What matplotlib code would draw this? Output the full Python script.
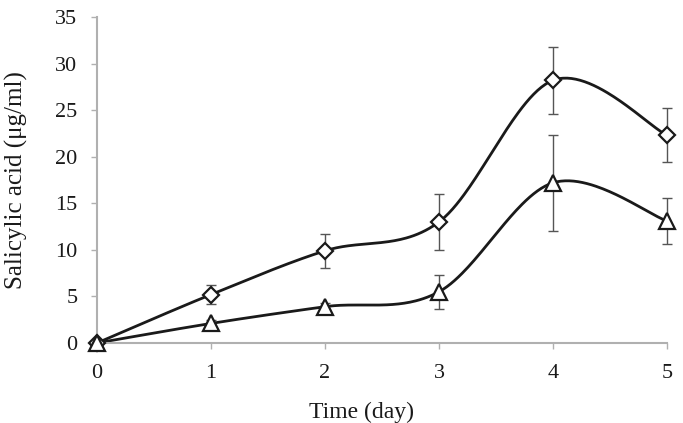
import numpy as np
import matplotlib
matplotlib.use("Agg")
import matplotlib.pyplot as plt

days = [0, 1, 2, 3, 4, 5]
sa_diamond = [0.0, 5.2, 9.9, 13.0, 28.2, 22.3]
err_diamond = [0.0, 1.0, 1.8, 3.0, 3.6, 2.9]
sa_triangle = [0.0, 2.1, 3.9, 5.5, 17.2, 13.1]
err_triangle = [0.0, 0.4, 0.4, 1.85, 5.15, 2.5]
xticks = [0, 1, 2, 3, 4, 5]
yticks = [0, 5, 10, 15, 20, 25, 30, 35]


def smooth(x, y, n=60):
    P = np.column_stack([x, y]).astype(float)
    ext = np.vstack([P[0], P, P[-1]])
    out = []
    for i in range(len(P) - 1):
        p0, p1, p2, p3 = ext[i], ext[i + 1], ext[i + 2], ext[i + 3]
        c1 = p1 + (p2 - p0) / 6.0
        c2 = p2 - (p3 - p1) / 6.0
        t = np.linspace(0, 1, n)[:, None]
        seg = ((1 - t) ** 3) * p1 + 3 * ((1 - t) ** 2) * t * c1 + 3 * (1 - t) * t ** 2 * c2 + t ** 3 * p2
        out.append(seg if i == 0 else seg[1:])
    s = np.vstack(out)
    return s[:, 0], s[:, 1]


plt.rcParams['font.family'] = ['Liberation Serif', 'DejaVu Serif']
fig = plt.figure(figsize=(6.83, 4.23), dpi=100)
ax = fig.add_axes([97 / 683, 1 - 343 / 423, 570 / 683, 326 / 423])

gray = '#b0b0b0'
for y, e, m, ms in [(sa_diamond, err_diamond, 'D', 8), (sa_triangle, err_triangle, '^', 11)]:
    sx, sy = smooth(days, y)
    ax.plot(sx, sy, color='#1a1a1a', lw=2.0, zorder=2, clip_on=False)
    ax.errorbar(days, y, yerr=e, fmt='none', ecolor='#555555', elinewidth=1.0,
                capsize=3.5, capthick=1.0, zorder=3, clip_on=False)
    ax.plot(days, y, linestyle='none', marker=m, markersize=ms,
            markerfacecolor='white', markeredgecolor='#1a1a1a', markeredgewidth=1.6,
            zorder=4, clip_on=False)

ax.set_xlim(0, 5)
ax.set_ylim(0, 35)
ax.set_xticks(xticks)
ax.set_yticks(yticks)
ax.tick_params(axis='both', colors=gray, labelcolor='#1a1a1a', labelsize=16,
               length=4, width=1.0, direction='out')
ax.tick_params(axis='x', pad=11)
ax.tick_params(axis='y', pad=10)
for side in ['top', 'right']:
    ax.spines[side].set_visible(False)
for side in ['left', 'bottom']:
    ax.spines[side].set_color(gray)
    ax.spines[side].set_linewidth(1.5)

fig.text(361 / 683, 1 - 402 / 423, 'Time (day)', fontsize=17, color='#1a1a1a',
         ha='center', va='top')
ax.set_ylabel('Salicylic acid (μg/ml)', fontsize=18, color='#1a1a1a')
ax.yaxis.set_label_coords(-(97 - 16) / 570, 0.5, transform=ax.transAxes)
ax.yaxis.label.set_verticalalignment('center')

fig.savefig('out.png', dpi=100)
